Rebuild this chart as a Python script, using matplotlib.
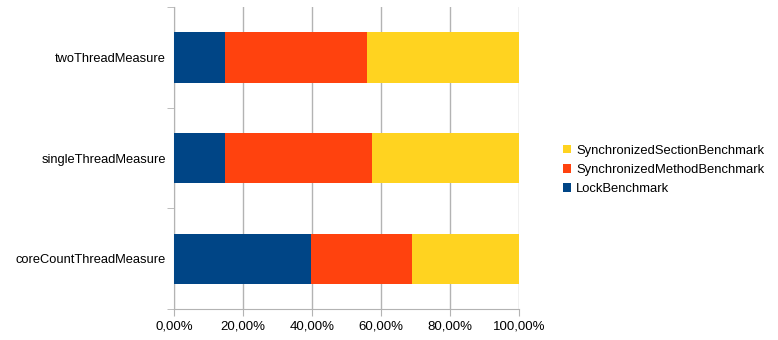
import matplotlib.pyplot as plt
import numpy as np

plt.rcParams['font.family'] = ['Liberation Sans', 'DejaVu Sans']

categories = ["coreCountThreadMeasure", "singleThreadMeasure", "twoThreadMeasure"]
lock = [39.8, 14.9, 14.7]
method = [29.1, 42.5, 41.1]
section = [31.1, 42.6, 44.2]

series = [("LockBenchmark", lock, "#004586"),
          ("SynchronizedMethodBenchmark", method, "#ff420e"),
          ("SynchronizedSectionBenchmark", section, "#ffd320")]

fig = plt.figure(figsize=(7.78, 3.4), dpi=100)
ax = fig.add_axes([174 / 778, 1 - 309 / 340, 345.3 / 778, 302 / 340])

y = np.arange(len(categories))
left = np.zeros(len(categories))
for name, vals, col in series:
    vals = np.array(vals)
    ax.barh(y, vals, left=left, height=0.5, color=col, label=name, zorder=3)
    left += vals

ax.set_xlim(0, 100)
ax.set_ylim(-0.5, 2.5)
ax.set_xticks(np.arange(0, 101, 20))
ax.set_xticklabels(["%d,00%%" % v for v in range(0, 101, 20)], fontsize=9.5)
ax.set_yticks(y)
ax.set_yticklabels(categories, fontsize=9.3)
ax.tick_params(axis='y', length=0, pad=6)
ax.set_yticks([-0.5, 0.5, 1.5, 2.5], minor=True)
ax.tick_params(axis='y', which='minor', length=5, color='#b3b3b3')
ax.tick_params(axis='x', length=5, color='#b3b3b3', pad=3)
ax.grid(axis='x', color='#b3b3b3', linewidth=1, zorder=0)
for s in ['top', 'right']:
    ax.spines[s].set_visible(False)
for s in ['left', 'bottom']:
    ax.spines[s].set_color('#b3b3b3')

h, l = ax.get_legend_handles_labels()
fig.legend(h[::-1], l[::-1], loc='center left', bbox_to_anchor=(558 / 778, 1 - 170 / 340),
           frameon=False, fontsize=9.4, handlelength=0.6, handleheight=0.6,
           handletextpad=0.4, labelspacing=0.55, borderaxespad=0)

plt.savefig('out.png', dpi=100)
